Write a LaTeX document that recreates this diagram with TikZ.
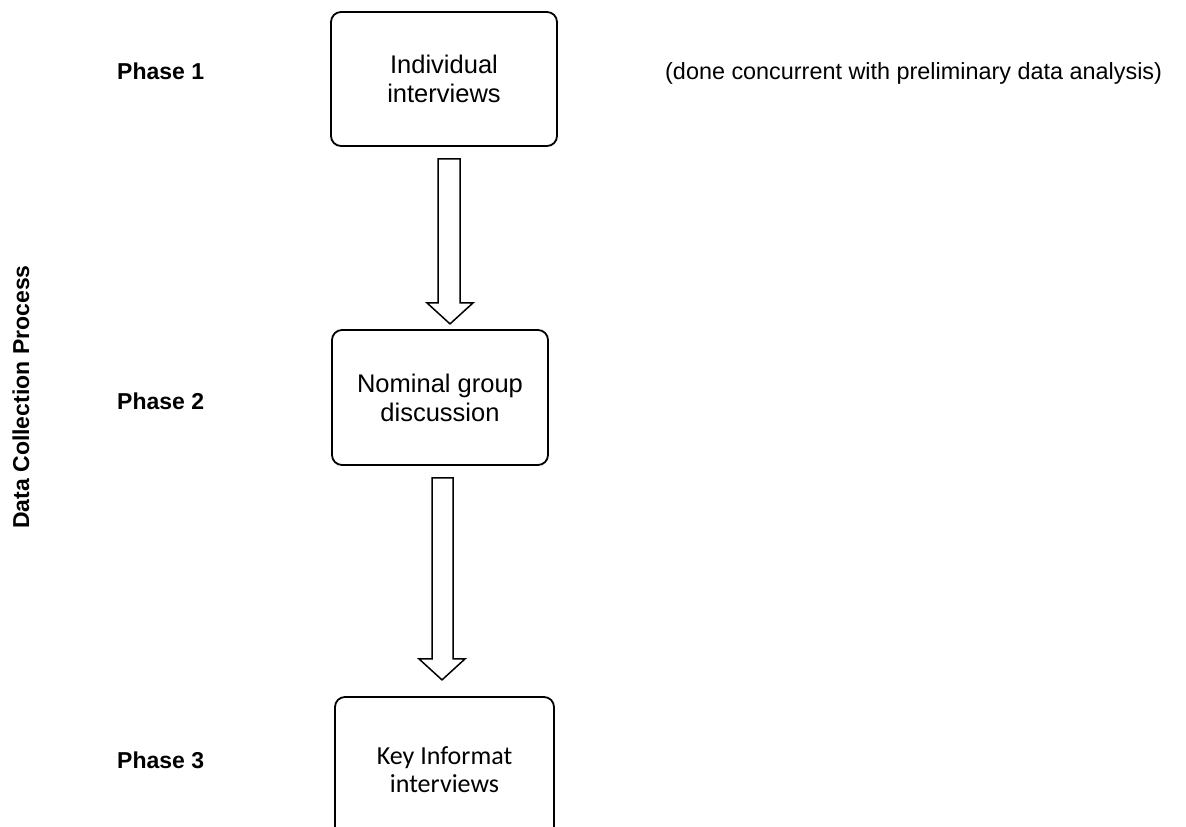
\documentclass[tikz,border=0pt]{standalone}
\usepackage{fontspec}
\setmainfont{Liberation Sans}
\newfontfamily\calibri{Carlito}
\tikzset{
  phasebox/.style={draw,line width=1.8pt,rounded corners=10pt,align=center,
    font=\fontsize{25.5}{29}\selectfont},
  phaselabel/.style={anchor=west,inner sep=0pt,font=\fontsize{23}{27}\selectfont\bfseries},
  fatarrow/.style={draw,line width=1.5pt,line join=miter,fill=white}
}

\begin{document}
\begin{tikzpicture}[x=1pt,y=-1pt]
	\useasboundingbox (0,0) rectangle (1186,827);

	\node[phasebox,minimum width=226pt,minimum height=134pt] (indiv) at (444,79) {Individual\\interviews};
	\node[phasebox,minimum width=216pt,minimum height=135pt] (nominal) at (440,397.5) {Nominal group\\discussion};
	\node[phasebox,minimum width=219pt,minimum height=146pt,font=\calibri\fontsize{26}{28}\selectfont]
		(keyinf) at (444.5,770) {Key Informat\\interviews};

	\node[phaselabel] (p1) at (117,71) {Phase 1};
	\node[phaselabel] (p2) at (117,401) {Phase 2};
	\node[phaselabel] (p3) at (117,760) {Phase 3};
	\node[rotate=90,inner sep=0pt,font=\fontsize{23}{27}\selectfont\bfseries] (process) at (21,397) {Data Collection Process};
	\node[anchor=west,inner sep=0pt,font=\fontsize{23.4}{28}\selectfont] (note) at (665,73)
		{(done concurrent with preliminary data analysis)};

	% block arrows between the phases
	\draw[fatarrow] ([xshift=-6pt,yshift=-12pt]indiv.south) -- ++(22,0) -- ++(0,144) -- ++(13,0)
		-- ++(-23,21) -- ++(-23,-21) -- ++(11,0) -- cycle;
	\draw[fatarrow] ([xshift=-8pt,yshift=-12pt]nominal.south) -- ++(21,0) -- ++(0,181) -- ++(12,0)
		-- ++(-23,21) -- ++(-23,-21) -- ++(13,0) -- cycle;
\end{tikzpicture}
\end{document}
